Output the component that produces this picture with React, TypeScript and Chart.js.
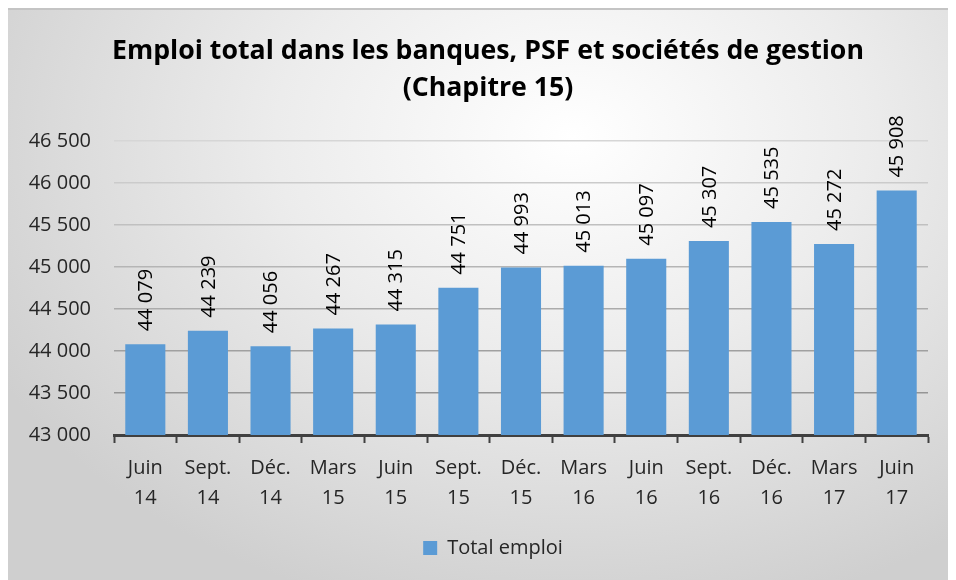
import React, { useEffect, useRef } from "react";
import { Chart, registerables } from "chart.js";

Chart.register(...registerables);

const categories: string[][] = [
  ["Juin", "14"], ["Sept.", "14"], ["Déc.", "14"], ["Mars", "15"], ["Juin", "15"],
  ["Sept.", "15"], ["Déc.", "15"], ["Mars", "16"], ["Juin", "16"], ["Sept.", "16"],
  ["Déc.", "16"], ["Mars", "17"], ["Juin", "17"],
];
const totalEmploi: number[] = [
  44079, 44239, 44056, 44267, 44315, 44751, 44993, 45013, 45097, 45307, 45535, 45272, 45908,
];
const titleLines: string[] = ["Emploi total dans les banques, PSF et sociétés de gestion", "(Chapitre 15)"];
const seriesLabel = "Total emploi";
const yMin = 43000;
const yMax = 46500;
const yStep = 500;

const FONT = "'Open Sans', Lato, sans-serif";
const TEXT = "#262626";

const fmt = (v: number) => {
  const s = Math.round(v).toString();
  return s.replace(/\B(?=(\d{3})+(?!\d))/g, " ");
};

const valueLabels = {
  id: "valueLabels",
  afterDatasetsDraw(chart: any) {
    const ctx = chart.ctx;
    const meta = chart.getDatasetMeta(0);
    const data = chart.data.datasets[0].data as number[];
    ctx.save();
    ctx.font = `20px ${FONT}`;
    ctx.fillStyle = "#000000";
    ctx.textAlign = "left";
    ctx.textBaseline = "middle";
    meta.data.forEach((bar: any, i: number) => {
      ctx.save();
      ctx.translate(bar.x + 1, bar.y - 13);
      ctx.rotate(-Math.PI / 2);
      ctx.fillText(fmt(data[i]), 0, 0);
      ctx.restore();
    });
    ctx.restore();
  },
};

// Shift the centred title and legend slightly right, as in the original layout.
const shiftBlocks = {
  id: "shiftBlocks",
  afterLayout(chart: any) {
    if (chart.titleBlock) chart.titleBlock.left += 40;
    if (chart.legend) chart.legend.left += 50;
  },
};

export default function App() {
  const ref = useRef<HTMLCanvasElement | null>(null);
  useEffect(() => {
    if (!ref.current) return;
    const chart = new Chart(ref.current, {
      type: "bar",
      data: {
        labels: categories,
        datasets: [
          {
            label: seriesLabel,
            data: totalEmploi,
            backgroundColor: "#5b9bd5",
            borderWidth: 0,
            barPercentage: 0.64,
            categoryPercentage: 1,
          },
        ],
      },
      plugins: [valueLabels, shiftBlocks],
      options: {
        responsive: false,
        maintainAspectRatio: false,
        animation: false,
        layout: { padding: { left: 0, right: 20, top: 0, bottom: 12 } },
        plugins: {
          title: {
            display: true,
            text: titleLines,
            color: "#000000",
            font: { family: FONT, size: 26.7, weight: "bold", lineHeight: 1.42 },
            padding: { top: 22, bottom: 33 },
          },
          legend: {
            display: true,
            position: "bottom",
            labels: {
              boxWidth: 14,
              boxHeight: 14,
              color: TEXT,
              font: { family: FONT, size: 20 },
              padding: 6,
            },
          },
          tooltip: { enabled: false },
        },
        scales: {
          x: {
            offset: true,
            afterFit: (scale: any) => {
              scale.height = 97;
            },
            grid: {
              offset: true,
              drawOnChartArea: false,
              drawTicks: true,
              tickLength: 8,
              tickWidth: 2,
              tickColor: "#404040",
            },
            border: { display: true, color: "#404040", width: 3 },
            ticks: {
              color: TEXT,
              font: { family: FONT, size: 20, lineHeight: 1.5 },
              padding: 10,
              maxRotation: 0,
              autoSkip: false,
            },
          },
          y: {
            min: yMin,
            max: yMax,
            afterFit: (scale: any) => {
              scale.width = 106;
            },
            grid: {
              drawTicks: false,
              lineWidth: 1.5,
              color: (c: any) => {
                const v = c.tick ? c.tick.value : yMax;
                const t = (yMax - v) / (yMax - yMin);
                const g = Math.round(0xd6 - t * (0xd6 - 0x8a));
                return `rgb(${g},${g},${g})`;
              },
            },
            border: { display: false },
            ticks: {
              stepSize: yStep,
              color: TEXT,
              padding: 23,
              font: { family: FONT, size: 20 },
              callback: (v: any) => fmt(Number(v)),
            },
          },
        },
      },
    });
    return () => chart.destroy();
  }, []);

  return (
    <div
      style={{
        width: 940,
        height: 580,
        borderTop: "2px solid #c4c4c4",
        boxSizing: "border-box",
        background:
          "radial-gradient(ellipse 70% 85% at 60% 22%, #ffffff 0%, #ececec 45%, #cfcfcf 100%)",
      }}
    >
      <canvas ref={ref} width={940} height={570} style={{ display: "block" }} />
    </div>
  );
}
